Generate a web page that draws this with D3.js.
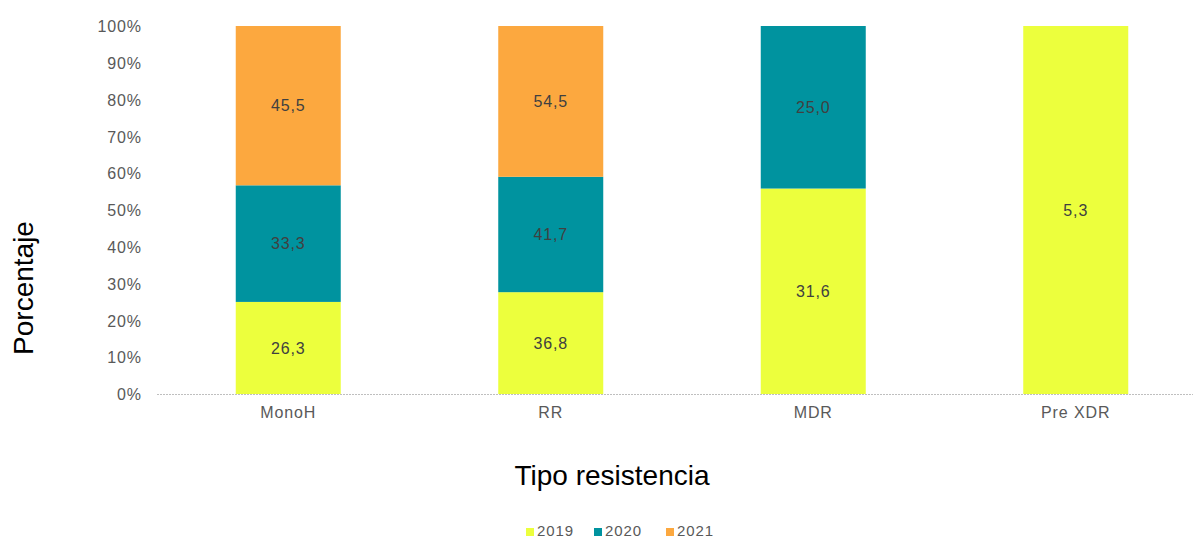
<!DOCTYPE html>
<html><head><meta charset="utf-8">
<script src="https://cdn.jsdelivr.net/npm/d3@7"></script>
<style>body{margin:0;background:#fff}text{font-family:"Liberation Sans",Arial,sans-serif}</style>
</head><body><svg id="c" width="1193" height="540"></svg>
<script>
const categories = ["MonoH","RR","MDR","Pre XDR"];
const seriesNames = ["2019","2020","2021"];
const v2019 = [26.3, 36.8, 31.6, 5.3];
const v2020 = [33.3, 41.7, 25.0, 0];
const v2021 = [45.5, 54.5, 0, 0];
const colors = ["#ECFF3D","#00939F","#FCA83F"];
const yTicks = [0,0.1,0.2,0.3,0.4,0.5,0.6,0.7,0.8,0.9,1];

const rows = categories.map((c,i)=>({cat:c, "2019":v2019[i], "2020":v2020[i], "2021":v2021[i]}));
const stacked = d3.stack().keys(seriesNames).offset(d3.stackOffsetExpand)(rows);

const svg = d3.select("#c");
const x = d3.scaleBand().domain(categories).range([157,1207]).paddingInner(0.6).paddingOuter(0.3);
const y = d3.scaleLinear().domain([0,1]).range([394,26]);
const small = "16px", ls = "0.9px";

// baseline
svg.append("line").attr("x1",157).attr("x2",1193).attr("y1",y(0)+0.5).attr("y2",y(0)+0.5)
  .attr("stroke","#BFBFBF").attr("stroke-dasharray","2,1");

// y tick labels
const yAxis = d3.axisLeft(y).tickValues(yTicks).tickSize(0).tickPadding(0).tickFormat(d=>Math.round(d*100)+"%");
const ga = svg.append("g").attr("transform","translate(142,0)").call(yAxis);
ga.select(".domain").remove();
ga.selectAll("text").attr("fill","#595959").style("font-size",small).style("letter-spacing",ls)
  .style("font-family","Liberation Sans, Arial, sans-serif").attr("dy","0.36em");

// bars
const groups = svg.selectAll("g.s").data(stacked).join("g").attr("class","s").attr("fill",(d,i)=>colors[i]);
groups.selectAll("rect").data(d=>d).join("rect")
  .attr("x",d=>x(d.data.cat)).attr("width",x.bandwidth())
  .attr("y",d=>y(d[1])).attr("height",d=>Math.max(0,y(d[0])-y(d[1])));

// data labels
stacked.forEach(s=>{
  s.forEach(p=>{
    const val = p.data[s.key];
    if(!val) return;
    svg.append("text").attr("x",x(p.data.cat)+x.bandwidth()/2).attr("y",(y(p[0])+y(p[1]))/2)
      .attr("text-anchor","middle").attr("dy","0.36em").attr("fill","#404040")
      .style("font-size",small).style("letter-spacing",ls)
      .text(val.toFixed(1).replace(".",","));
  });
});

// x tick labels
const xAxis = d3.axisBottom(x).tickSize(0).tickPadding(0);
const gx = svg.append("g").attr("transform","translate(0,407)").call(xAxis);
gx.select(".domain").remove();
gx.selectAll("text").attr("fill","#595959").style("font-size",small).style("letter-spacing",ls)
  .style("font-family","Liberation Sans, Arial, sans-serif").attr("dy","0.71em");

// axis titles
svg.append("text").attr("x",612).attr("y",485).attr("text-anchor","middle").attr("fill","#000").style("font-size","28px").text("Tipo resistencia");
svg.append("text").attr("transform","translate(33,288) rotate(-90)").attr("text-anchor","middle").attr("fill","#000").style("font-size","28px").text("Porcentaje");

// legend
const legX = [526, 594, 666];
seriesNames.forEach((n,i)=>{
  svg.append("rect").attr("x",legX[i]).attr("y",528).attr("width",8).attr("height",8).attr("fill",colors[i]);
  svg.append("text").attr("x",legX[i]+11).attr("y",536).attr("fill","#595959")
    .style("font-size","15px").style("letter-spacing",ls).text(n);
});
</script></body></html>
